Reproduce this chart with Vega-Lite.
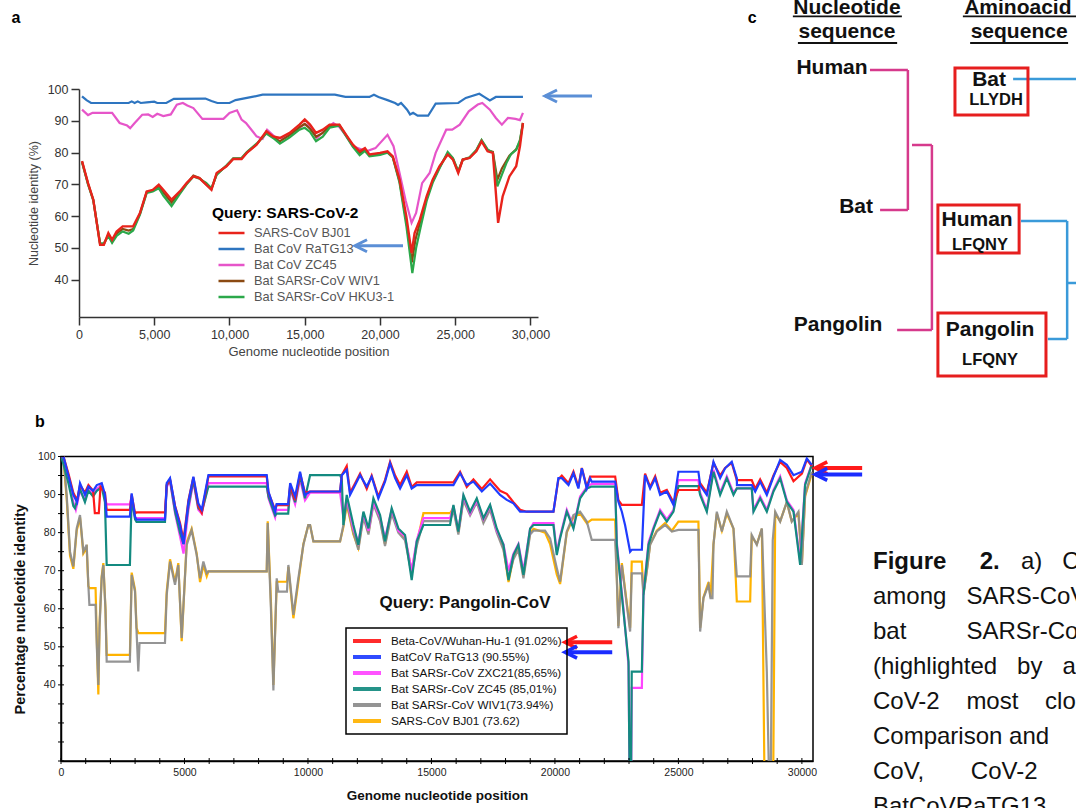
{
"$schema": "https://vega.github.io/schema/vega-lite/v6.json",
"autosize": "none",
"padding": {"left": 61, "top": 0, "right": 1015, "bottom": 808},
"background": "white",
"columns": 2,
"align": "none",
"bounds": "flush",
"spacing": {"row": 56.5, "column": 60},
"resolve": {"scale": {"color": "independent", "x": "independent", "y": "independent"}, "legend": {"color": "independent"}},
"config": {"font": "Liberation Sans", "view": {"stroke": null}, "axis": {"grid": false, "labelFlush": false, "labelOverlap": false}, "legend": {"strokeWidth": 1.5}},
"datasets": {
"a_ratg13": [{"x":200,"y":97.7},{"x":500,"y":96.5},{"x":800,"y":95.6},{"x":1500,"y":95.6},{"x":2500,"y":95.6},{"x":3300,"y":95.6},{"x":3500,"y":96.1},{"x":3700,"y":95.6},{"x":3900,"y":96.1},{"x":4100,"y":95.6},{"x":4500,"y":95.8},{"x":5000,"y":96.0},{"x":5200,"y":95.6},{"x":5800,"y":95.6},{"x":6300,"y":96.9},{"x":8400,"y":97.0},{"x":8800,"y":96.2},{"x":9200,"y":95.6},{"x":10000,"y":95.6},{"x":10400,"y":96.5},{"x":11500,"y":97.5},{"x":12200,"y":98.2},{"x":17000,"y":98.2},{"x":17700,"y":97.5},{"x":19300,"y":97.5},{"x":19600,"y":98.2},{"x":19900,"y":97.5},{"x":20500,"y":96.5},{"x":21000,"y":95.6},{"x":21200,"y":95.0},{"x":21400,"y":95.6},{"x":21600,"y":94.6},{"x":21800,"y":93.5},{"x":22000,"y":92.0},{"x":22200,"y":92.5},{"x":22500,"y":91.6},{"x":23200,"y":91.6},{"x":23700,"y":95.4},{"x":25200,"y":95.6},{"x":25700,"y":97.2},{"x":26600,"y":98.5},{"x":26900,"y":97.6},{"x":27300,"y":96.4},{"x":27700,"y":97.5},{"x":29500,"y":97.5}],
"a_zc45": [{"x":200,"y":93.5},{"x":600,"y":91.8},{"x":900,"y":92.5},{"x":2200,"y":92.5},{"x":2700,"y":89.3},{"x":3200,"y":88.5},{"x":3400,"y":87.7},{"x":3700,"y":89.3},{"x":4200,"y":91.9},{"x":4600,"y":92.0},{"x":4900,"y":91.2},{"x":5200,"y":92.2},{"x":5600,"y":91.5},{"x":6100,"y":92.0},{"x":6500,"y":95.1},{"x":6900,"y":95.6},{"x":7200,"y":94.8},{"x":7600,"y":94.0},{"x":8200,"y":90.6},{"x":9600,"y":90.6},{"x":10000,"y":92.5},{"x":10500,"y":93.3},{"x":10800,"y":90.4},{"x":11100,"y":89.3},{"x":11800,"y":85.1},{"x":12200,"y":84.3},{"x":12500,"y":87.2},{"x":13100,"y":84.6},{"x":13600,"y":84.6},{"x":14200,"y":86.2},{"x":15000,"y":89.0},{"x":15400,"y":88.0},{"x":15800,"y":84.6},{"x":16400,"y":87.2},{"x":16900,"y":89.3},{"x":17300,"y":88.0},{"x":17700,"y":85.6},{"x":18200,"y":82.0},{"x":19100,"y":80.4},{"x":19700,"y":81.4},{"x":20500,"y":85.6},{"x":20900,"y":82.0},{"x":21300,"y":73.6},{"x":21700,"y":65.0},{"x":22100,"y":57.9},{"x":22400,"y":61.0},{"x":22800,"y":70.4},{"x":23300,"y":73.6},{"x":23700,"y":79.9},{"x":24400,"y":87.2},{"x":24800,"y":87.2},{"x":25300,"y":88.8},{"x":25900,"y":93.0},{"x":26500,"y":95.1},{"x":26800,"y":95.6},{"x":27300,"y":93.5},{"x":27700,"y":90.9},{"x":28100,"y":88.8},{"x":28500,"y":90.9},{"x":29000,"y":90.6},{"x":29300,"y":90.2},{"x":29500,"y":92.5}],
"a_wiv1": [{"x":200,"y":77.2},{"x":600,"y":70.2},{"x":950,"y":65.1},{"x":1400,"y":51.2},{"x":1650,"y":51.2},{"x":1950,"y":54.2},{"x":2200,"y":52.0},{"x":2500,"y":54.5},{"x":2900,"y":56.0},{"x":3300,"y":55.5},{"x":3600,"y":56.0},{"x":4050,"y":60.8},{"x":4500,"y":67.6},{"x":4900,"y":68.0},{"x":5300,"y":69.3},{"x":5600,"y":67.5},{"x":6150,"y":64.3},{"x":6700,"y":67.4},{"x":7150,"y":70.2},{"x":7600,"y":72.8},{"x":8000,"y":72.0},{"x":8450,"y":70.0},{"x":8800,"y":68.5},{"x":9150,"y":73.3},{"x":9800,"y":75.8},{"x":10250,"y":78.1},{"x":10800,"y":78.1},{"x":11150,"y":80.0},{"x":11800,"y":82.6},{"x":12450,"y":86.3},{"x":12900,"y":84.8},{"x":13350,"y":83.6},{"x":14000,"y":85.5},{"x":14650,"y":88.0},{"x":15000,"y":89.0},{"x":15350,"y":87.5},{"x":15750,"y":85.0},{"x":16200,"y":86.2},{"x":16650,"y":88.3},{"x":17300,"y":88.7},{"x":17750,"y":85.4},{"x":18200,"y":82.2},{"x":18650,"y":79.8},{"x":19000,"y":81.0},{"x":19300,"y":79.1},{"x":20000,"y":79.6},{"x":20500,"y":80.2},{"x":20850,"y":78.6},{"x":21300,"y":71.0},{"x":21750,"y":58.5},{"x":22120,"y":45.5},{"x":22350,"y":52.5},{"x":22650,"y":57.8},{"x":23100,"y":65.5},{"x":23500,"y":71.0},{"x":23950,"y":75.3},{"x":24500,"y":79.8},{"x":24850,"y":78.0},{"x":25200,"y":73.9},{"x":25500,"y":77.8},{"x":25950,"y":78.4},{"x":26400,"y":80.6},{"x":26750,"y":83.8},{"x":27150,"y":80.7},{"x":27500,"y":80.2},{"x":27800,"y":71.5},{"x":28100,"y":75.0},{"x":28600,"y":79.0},{"x":29050,"y":81.0},{"x":29300,"y":83.5},{"x":29500,"y":89.3}],
"a_hku3": [{"x":200,"y":77.0},{"x":600,"y":70.0},{"x":950,"y":65.0},{"x":1400,"y":51.5},{"x":1650,"y":51.5},{"x":1950,"y":53.8},{"x":2200,"y":51.6},{"x":2500,"y":53.8},{"x":2900,"y":55.2},{"x":3300,"y":54.5},{"x":3600,"y":55.5},{"x":4050,"y":60.5},{"x":4500,"y":67.3},{"x":4900,"y":67.8},{"x":5300,"y":68.8},{"x":5600,"y":66.5},{"x":6150,"y":63.2},{"x":6700,"y":67.0},{"x":7150,"y":70.0},{"x":7600,"y":72.5},{"x":8000,"y":71.8},{"x":8450,"y":70.5},{"x":8800,"y":68.8},{"x":9150,"y":73.0},{"x":9800,"y":76.0},{"x":10250,"y":78.2},{"x":10800,"y":78.3},{"x":11150,"y":80.2},{"x":11800,"y":82.8},{"x":12450,"y":86.0},{"x":12900,"y":84.6},{"x":13350,"y":82.8},{"x":14000,"y":84.8},{"x":14650,"y":87.2},{"x":15000,"y":87.8},{"x":15350,"y":86.5},{"x":15750,"y":83.6},{"x":16200,"y":85.0},{"x":16650,"y":87.8},{"x":17300,"y":88.5},{"x":17750,"y":85.2},{"x":18200,"y":81.8},{"x":18650,"y":79.2},{"x":19000,"y":80.5},{"x":19300,"y":78.8},{"x":20000,"y":79.3},{"x":20500,"y":80.0},{"x":20850,"y":78.5},{"x":21300,"y":70.5},{"x":21750,"y":57.0},{"x":22150,"y":42.1},{"x":22400,"y":50.0},{"x":22700,"y":56.5},{"x":23100,"y":64.8},{"x":23500,"y":70.5},{"x":23950,"y":75.0},{"x":24500,"y":80.2},{"x":24850,"y":78.3},{"x":25200,"y":74.2},{"x":25500,"y":77.8},{"x":25950,"y":78.5},{"x":26400,"y":80.8},{"x":26750,"y":84.0},{"x":27150,"y":81.0},{"x":27500,"y":80.0},{"x":27800,"y":69.4},{"x":28400,"y":76.7},{"x":28700,"y":79.5},{"x":29050,"y":80.9},{"x":29300,"y":84.0},{"x":29500,"y":89.3}],
"a_bj01": [{"x":200,"y":77.3},{"x":600,"y":70.4},{"x":950,"y":65.2},{"x":1400,"y":51.0},{"x":1650,"y":51.0},{"x":1950,"y":54.7},{"x":2200,"y":52.6},{"x":2500,"y":55.2},{"x":2900,"y":56.8},{"x":3600,"y":56.8},{"x":4050,"y":61.0},{"x":4500,"y":67.8},{"x":4900,"y":68.3},{"x":5300,"y":69.9},{"x":5600,"y":68.3},{"x":6150,"y":65.2},{"x":6700,"y":67.8},{"x":7150,"y":70.4},{"x":7600,"y":72.5},{"x":8000,"y":72.0},{"x":8450,"y":69.9},{"x":8800,"y":68.3},{"x":9150,"y":73.6},{"x":9800,"y":75.7},{"x":10250,"y":78.0},{"x":10800,"y":78.0},{"x":11150,"y":79.9},{"x":11800,"y":82.5},{"x":12450,"y":86.7},{"x":12900,"y":85.1},{"x":13350,"y":84.6},{"x":14000,"y":86.2},{"x":14650,"y":88.8},{"x":15000,"y":90.4},{"x":15350,"y":88.8},{"x":15750,"y":86.2},{"x":16200,"y":87.2},{"x":16650,"y":88.8},{"x":17300,"y":88.8},{"x":17750,"y":85.6},{"x":18200,"y":82.5},{"x":18650,"y":80.4},{"x":19000,"y":81.4},{"x":19300,"y":79.4},{"x":20000,"y":79.9},{"x":20500,"y":80.4},{"x":20850,"y":78.8},{"x":21300,"y":71.5},{"x":21750,"y":60.0},{"x":22100,"y":48.4},{"x":22300,"y":54.7},{"x":22650,"y":58.9},{"x":23100,"y":66.2},{"x":23500,"y":71.5},{"x":23950,"y":75.7},{"x":24500,"y":79.4},{"x":24850,"y":77.8},{"x":25200,"y":73.6},{"x":25500,"y":77.8},{"x":25950,"y":78.3},{"x":26400,"y":80.4},{"x":26750,"y":83.5},{"x":27150,"y":80.4},{"x":27500,"y":79.9},{"x":27850,"y":57.9},{"x":28150,"y":66.2},{"x":28600,"y":72.5},{"x":29050,"y":75.7},{"x":29300,"y":82.0},{"x":29500,"y":89.3}],
"a_arrows": [{"x":30965,"x2":34090,"y":97.8},{"x":18340,"x2":21530,"y":50.7}],
"a_label": [{"t":"a","x":-4186,"y":122.4}],
"b_ratg13": [{"x":0,"y":100},{"x":100,"y":100},{"x":300,"y":95},{"x":500,"y":89.9},{"x":650,"y":88},{"x":770,"y":93},{"x":970,"y":89.9},{"x":1110,"y":92.1},{"x":1300,"y":91},{"x":1450,"y":92.5},{"x":1650,"y":93},{"x":1780,"y":90},{"x":1850,"y":84.2},{"x":2790,"y":84.2},{"x":2860,"y":90.3},{"x":3000,"y":84.2},{"x":3060,"y":83.4},{"x":4210,"y":83.4},{"x":4280,"y":93},{"x":4415,"y":94.3},{"x":4620,"y":86.8},{"x":4820,"y":82},{"x":4960,"y":77},{"x":5160,"y":88.1},{"x":5360,"y":94.7},{"x":5560,"y":87.7},{"x":5700,"y":86},{"x":5970,"y":95.1},{"x":8330,"y":95.1},{"x":8400,"y":90.8},{"x":8670,"y":85.5},{"x":8730,"y":87.5},{"x":9200,"y":87.5},{"x":9280,"y":93},{"x":9480,"y":89.5},{"x":9680,"y":96},{"x":9880,"y":89.9},{"x":10085,"y":90.8},{"x":11300,"y":90.8},{"x":11370,"y":95.1},{"x":11570,"y":96.5},{"x":11705,"y":89.9},{"x":11910,"y":92.5},{"x":12110,"y":95.1},{"x":12380,"y":92.1},{"x":12580,"y":94.7},{"x":12850,"y":89},{"x":13120,"y":93.4},{"x":13325,"y":98.2},{"x":13530,"y":94.3},{"x":13730,"y":91.6},{"x":14000,"y":95.1},{"x":14200,"y":91.6},{"x":14405,"y":92.5},{"x":15890,"y":92.5},{"x":16160,"y":95.6},{"x":16430,"y":92.5},{"x":16700,"y":93.4},{"x":17040,"y":90.8},{"x":17375,"y":92.9},{"x":17780,"y":89.9},{"x":18050,"y":88.6},{"x":18320,"y":87.7},{"x":18590,"y":85.5},{"x":19940,"y":85.5},{"x":20140,"y":94.3},{"x":20280,"y":94.3},{"x":20550,"y":92.5},{"x":20750,"y":95.6},{"x":20950,"y":91.6},{"x":21090,"y":96.9},{"x":21290,"y":91.6},{"x":21425,"y":94.3},{"x":21490,"y":93.4},{"x":22440,"y":93.4},{"x":22570,"y":88.1},{"x":22710,"y":85.5},{"x":22840,"y":82},{"x":23045,"y":75},{"x":23110,"y":75.5},{"x":23520,"y":75.5},{"x":23650,"y":95.1},{"x":23855,"y":91.6},{"x":24060,"y":94.3},{"x":24260,"y":89.9},{"x":24530,"y":90.8},{"x":24800,"y":87.3},{"x":25000,"y":96},{"x":25810,"y":96},{"x":25880,"y":92.5},{"x":26150,"y":89.9},{"x":26420,"y":98.6},{"x":26690,"y":94.3},{"x":26890,"y":96.9},{"x":27160,"y":98.6},{"x":27365,"y":94.3},{"x":27370,"y":92.5},{"x":27970,"y":92.5},{"x":28110,"y":90.8},{"x":28310,"y":93.4},{"x":28580,"y":89.9},{"x":28850,"y":94.7},{"x":29120,"y":99.1},{"x":29390,"y":97.8},{"x":29660,"y":95.1},{"x":30000,"y":96},{"x":30200,"y":99.5},{"x":30400,"y":97.8}],
"b_wuhan": [{"x":0,"y":100},{"x":100,"y":100},{"x":300,"y":95.5},{"x":500,"y":90.5},{"x":650,"y":88.5},{"x":770,"y":92.5},{"x":970,"y":90.5},{"x":1110,"y":92.5},{"x":1300,"y":91},{"x":1370,"y":85.1},{"x":1530,"y":85.1},{"x":1600,"y":92},{"x":1780,"y":90.5},{"x":1850,"y":86},{"x":2790,"y":86},{"x":2860,"y":90},{"x":3000,"y":85},{"x":3060,"y":85.3},{"x":4210,"y":85.3},{"x":4280,"y":92.5},{"x":4415,"y":94},{"x":4620,"y":87},{"x":4820,"y":82.5},{"x":4960,"y":78},{"x":5160,"y":88.5},{"x":5360,"y":94.5},{"x":5560,"y":87},{"x":5700,"y":85.2},{"x":5970,"y":94.8},{"x":8330,"y":94.8},{"x":8400,"y":90.5},{"x":8670,"y":86},{"x":8730,"y":87.2},{"x":9200,"y":87.2},{"x":9280,"y":92.5},{"x":9480,"y":88.5},{"x":9680,"y":95.5},{"x":9880,"y":90.5},{"x":10085,"y":90.8},{"x":11300,"y":90.8},{"x":11370,"y":95.1},{"x":11570,"y":97.5},{"x":11705,"y":90.5},{"x":11910,"y":93},{"x":12110,"y":95.5},{"x":12380,"y":91.5},{"x":12580,"y":95},{"x":12850,"y":89.5},{"x":13120,"y":93.8},{"x":13325,"y":98.6},{"x":13530,"y":95},{"x":13730,"y":92.5},{"x":14000,"y":96},{"x":14200,"y":92},{"x":14405,"y":93.2},{"x":15890,"y":93.2},{"x":16160,"y":96},{"x":16430,"y":92},{"x":16700,"y":94},{"x":17040,"y":91.5},{"x":17375,"y":94},{"x":17780,"y":91},{"x":18050,"y":90.2},{"x":18320,"y":88},{"x":18590,"y":86},{"x":18860,"y":85.5},{"x":19940,"y":85.5},{"x":20140,"y":94},{"x":20280,"y":95},{"x":20550,"y":93},{"x":20750,"y":96},{"x":20950,"y":92},{"x":21090,"y":97},{"x":21290,"y":92},{"x":21425,"y":94.7},{"x":22440,"y":94.7},{"x":22570,"y":88.5},{"x":22710,"y":87.3},{"x":23520,"y":87.3},{"x":23650,"y":95.5},{"x":23855,"y":92},{"x":24060,"y":94.8},{"x":24260,"y":90.5},{"x":24530,"y":91.2},{"x":24800,"y":88},{"x":25000,"y":91.2},{"x":25810,"y":91.2},{"x":25880,"y":93},{"x":26150,"y":90.5},{"x":26420,"y":98.3},{"x":26690,"y":95},{"x":26890,"y":97},{"x":27160,"y":98.3},{"x":27365,"y":93.8},{"x":27970,"y":93.8},{"x":28110,"y":91.5},{"x":28310,"y":94},{"x":28580,"y":90.5},{"x":28850,"y":95},{"x":29120,"y":98.6},{"x":29390,"y":97},{"x":29660,"y":93.5},{"x":30000,"y":95.5},{"x":30200,"y":99.2},{"x":30400,"y":97.5}],
"b_zxc21": [{"x":0,"y":100},{"x":100,"y":99},{"x":300,"y":94},{"x":500,"y":88},{"x":600,"y":86},{"x":770,"y":91},{"x":970,"y":88.5},{"x":1110,"y":91.5},{"x":1300,"y":90},{"x":1450,"y":91.5},{"x":1650,"y":92.5},{"x":1780,"y":89},{"x":1850,"y":87.4},{"x":2790,"y":87.4},{"x":2860,"y":89.5},{"x":3000,"y":84},{"x":3060,"y":83.8},{"x":4210,"y":83.8},{"x":4280,"y":92},{"x":4415,"y":93.5},{"x":4620,"y":85},{"x":4820,"y":79},{"x":4960,"y":74.5},{"x":5160,"y":86},{"x":5360,"y":93.5},{"x":5560,"y":86},{"x":5700,"y":85},{"x":5970,"y":93},{"x":8330,"y":93},{"x":8400,"y":89},{"x":8670,"y":84},{"x":8730,"y":86},{"x":9200,"y":86},{"x":9280,"y":91.5},{"x":9480,"y":87.5},{"x":9680,"y":94},{"x":9880,"y":88.5},{"x":10085,"y":90.5},{"x":11300,"y":90.5},{"x":11435,"y":84},{"x":11570,"y":89},{"x":11840,"y":81},{"x":12040,"y":77.5},{"x":12245,"y":85},{"x":12450,"y":80.5},{"x":12650,"y":88},{"x":12920,"y":84},{"x":13120,"y":78.5},{"x":13390,"y":86},{"x":13660,"y":80.5},{"x":13930,"y":79},{"x":14200,"y":70},{"x":14405,"y":78},{"x":14675,"y":83.8},{"x":15755,"y":83.8},{"x":15890,"y":87},{"x":16090,"y":80.5},{"x":16295,"y":89.5},{"x":16565,"y":85},{"x":16835,"y":88.5},{"x":17105,"y":83.5},{"x":17375,"y":87},{"x":17645,"y":80.5},{"x":17915,"y":77},{"x":18120,"y":70},{"x":18320,"y":74.5},{"x":18520,"y":77},{"x":18725,"y":70},{"x":18995,"y":81},{"x":19130,"y":82.5},{"x":19940,"y":82.5},{"x":20075,"y":75},{"x":20210,"y":79},{"x":20480,"y":86},{"x":20750,"y":81.5},{"x":21020,"y":89.5},{"x":21290,"y":92},{"x":21490,"y":92.8},{"x":22440,"y":92.8},{"x":22505,"y":77.5},{"x":22640,"y":68.5},{"x":22775,"y":60},{"x":22980,"y":45},{"x":23045,"y":0},{"x":23070,"y":0},{"x":23110,"y":39.2},{"x":23520,"y":39.2},{"x":23585,"y":64},{"x":23790,"y":77.5},{"x":24000,"y":81.5},{"x":24260,"y":86},{"x":24530,"y":83.5},{"x":24800,"y":86},{"x":25000,"y":93.8},{"x":25810,"y":93.8},{"x":25880,"y":90.5},{"x":26150,"y":86},{"x":26420,"y":96.5},{"x":26690,"y":90.5},{"x":26960,"y":94.8},{"x":27230,"y":90.5},{"x":27365,"y":91.6},{"x":27970,"y":91.6},{"x":28040,"y":86},{"x":28310,"y":89.5},{"x":28580,"y":86},{"x":28850,"y":91.2},{"x":29120,"y":94.8},{"x":29390,"y":88.5},{"x":29660,"y":86},{"x":29930,"y":72.5},{"x":30130,"y":93},{"x":30400,"y":98}],
"b_zc45": [{"x":0,"y":100},{"x":100,"y":98},{"x":300,"y":93},{"x":500,"y":87},{"x":567,"y":86.4},{"x":770,"y":91.5},{"x":970,"y":88},{"x":1110,"y":91},{"x":1300,"y":89.5},{"x":1450,"y":91},{"x":1650,"y":92},{"x":1780,"y":88},{"x":1850,"y":71.5},{"x":2790,"y":71.5},{"x":2860,"y":89},{"x":3000,"y":83.5},{"x":3060,"y":82.8},{"x":4210,"y":82.8},{"x":4280,"y":92.5},{"x":4415,"y":93.8},{"x":4620,"y":85.5},{"x":4820,"y":80},{"x":4960,"y":77},{"x":5160,"y":87},{"x":5360,"y":93.8},{"x":5560,"y":86.5},{"x":5700,"y":85.5},{"x":5970,"y":92.1},{"x":8330,"y":92.1},{"x":8400,"y":89.5},{"x":8670,"y":84.5},{"x":8730,"y":85},{"x":9200,"y":85},{"x":9280,"y":92},{"x":9480,"y":88},{"x":9680,"y":95},{"x":9880,"y":89},{"x":10085,"y":95.1},{"x":11300,"y":95.1},{"x":11370,"y":94},{"x":11435,"y":82},{"x":11570,"y":89.9},{"x":11840,"y":82},{"x":12040,"y":76.8},{"x":12245,"y":85.5},{"x":12450,"y":81.1},{"x":12650,"y":89},{"x":12920,"y":84.6},{"x":13120,"y":77.7},{"x":13390,"y":86.4},{"x":13660,"y":81.1},{"x":13930,"y":79.4},{"x":14200,"y":67.5},{"x":14405,"y":77.7},{"x":14675,"y":82},{"x":15755,"y":82},{"x":15890,"y":87.3},{"x":16090,"y":80.3},{"x":16295,"y":89.9},{"x":16565,"y":85.5},{"x":16835,"y":89},{"x":17105,"y":83.8},{"x":17375,"y":87.3},{"x":17645,"y":81.1},{"x":17915,"y":76.8},{"x":18120,"y":67.5},{"x":18320,"y":74.1},{"x":18520,"y":76.8},{"x":18725,"y":68.9},{"x":18995,"y":81.1},{"x":19130,"y":82},{"x":19940,"y":82},{"x":20075,"y":74.1},{"x":20210,"y":78.5},{"x":20480,"y":85.5},{"x":20750,"y":81.1},{"x":21020,"y":89},{"x":21290,"y":91.6},{"x":21490,"y":92.1},{"x":22440,"y":92.1},{"x":22505,"y":76.8},{"x":22640,"y":68},{"x":22775,"y":59.3},{"x":22980,"y":46.1},{"x":23045,"y":0},{"x":23070,"y":0},{"x":23110,"y":43.5},{"x":23520,"y":43.5},{"x":23585,"y":63.6},{"x":23790,"y":76.8},{"x":24000,"y":81.1},{"x":24260,"y":85.5},{"x":24530,"y":82.9},{"x":24800,"y":85.5},{"x":25000,"y":92.2},{"x":25810,"y":92.2},{"x":25880,"y":89.9},{"x":26150,"y":85.5},{"x":26420,"y":96},{"x":26690,"y":89.9},{"x":26960,"y":94.3},{"x":27230,"y":89.9},{"x":27365,"y":91.6},{"x":27970,"y":91.6},{"x":28040,"y":85.5},{"x":28310,"y":89},{"x":28580,"y":85.5},{"x":28850,"y":90.8},{"x":29120,"y":94.3},{"x":29390,"y":88.1},{"x":29660,"y":85.5},{"x":29930,"y":71.5},{"x":30130,"y":92.5},{"x":30400,"y":97.8}],
"b_wiv1": [{"x":0,"y":100},{"x":100,"y":100},{"x":230,"y":89.9},{"x":365,"y":75},{"x":500,"y":71.1},{"x":635,"y":81.1},{"x":770,"y":84.6},{"x":905,"y":75},{"x":1040,"y":76.8},{"x":1107,"y":66.3},{"x":1150,"y":61},{"x":1400,"y":61},{"x":1450,"y":50},{"x":1512,"y":40},{"x":1560,"y":55},{"x":1647,"y":68},{"x":1715,"y":71.5},{"x":1800,"y":60},{"x":1850,"y":46.1},{"x":2790,"y":46.1},{"x":2862,"y":68.9},{"x":2997,"y":64.5},{"x":3060,"y":54},{"x":3130,"y":43.5},{"x":3180,"y":51},{"x":4210,"y":51},{"x":4280,"y":63.6},{"x":4415,"y":72.4},{"x":4617,"y":66.3},{"x":4750,"y":71.5},{"x":4887,"y":52.3},{"x":5090,"y":76.8},{"x":5290,"y":80.7},{"x":5495,"y":74.1},{"x":5630,"y":68},{"x":5765,"y":72.4},{"x":5900,"y":69.3},{"x":5967,"y":69.8},{"x":8330,"y":69.8},{"x":8370,"y":82.5},{"x":8500,"y":60},{"x":8600,"y":38.5},{"x":8735,"y":68},{"x":8800,"y":64.5},{"x":9150,"y":64.5},{"x":9207,"y":71.5},{"x":9410,"y":58.4},{"x":9610,"y":68},{"x":9815,"y":76.8},{"x":10015,"y":82},{"x":10085,"y":82},{"x":10220,"y":77.7},{"x":11300,"y":77.7},{"x":11435,"y":82},{"x":11570,"y":88},{"x":11840,"y":80},{"x":12040,"y":75.5},{"x":12245,"y":84},{"x":12450,"y":79.5},{"x":12650,"y":87.5},{"x":12920,"y":83},{"x":13120,"y":76.5},{"x":13390,"y":85},{"x":13660,"y":80},{"x":13930,"y":78},{"x":14200,"y":69},{"x":14405,"y":76.5},{"x":14675,"y":83},{"x":15755,"y":83},{"x":15890,"y":86},{"x":16090,"y":79.5},{"x":16295,"y":88.5},{"x":16565,"y":84.5},{"x":16835,"y":88},{"x":17105,"y":82.5},{"x":17375,"y":86},{"x":17645,"y":80},{"x":17915,"y":75.5},{"x":18120,"y":68},{"x":18320,"y":73},{"x":18520,"y":75.5},{"x":18725,"y":68},{"x":18995,"y":79.5},{"x":19130,"y":80.5},{"x":19600,"y":80.5},{"x":19805,"y":78.5},{"x":20075,"y":70.7},{"x":20210,"y":67.1},{"x":20480,"y":80.3},{"x":20750,"y":84.6},{"x":21020,"y":85.5},{"x":21290,"y":82.9},{"x":21490,"y":78.1},{"x":22440,"y":78.1},{"x":22505,"y":68},{"x":22570,"y":54.9},{"x":22710,"y":71.5},{"x":22910,"y":61},{"x":23045,"y":54},{"x":23110,"y":69.3},{"x":23520,"y":69.3},{"x":23585,"y":63.6},{"x":23720,"y":69.8},{"x":23855,"y":76.8},{"x":24125,"y":80.3},{"x":24460,"y":82},{"x":24735,"y":80.3},{"x":25000,"y":80.7},{"x":25810,"y":80.7},{"x":25880,"y":54},{"x":26015,"y":62.8},{"x":26220,"y":66.3},{"x":26300,"y":62.8},{"x":26380,"y":62.8},{"x":26420,"y":76.8},{"x":26555,"y":85.5},{"x":26760,"y":80.3},{"x":26960,"y":85.5},{"x":27230,"y":81.1},{"x":27365,"y":68.5},{"x":27905,"y":68.5},{"x":27970,"y":79.4},{"x":28175,"y":76.8},{"x":28380,"y":81.1},{"x":28580,"y":43.5},{"x":28720,"y":0},{"x":28820,"y":78},{"x":28920,"y":85.5},{"x":29120,"y":82.9},{"x":29390,"y":88.1},{"x":29590,"y":82.9},{"x":29860,"y":85.5},{"x":30000,"y":71.5},{"x":30130,"y":89.9},{"x":30400,"y":96}],
"b_bj01": [{"x":0,"y":100},{"x":100,"y":99},{"x":230,"y":89},{"x":365,"y":74},{"x":500,"y":70.5},{"x":635,"y":80.5},{"x":770,"y":84},{"x":905,"y":74.5},{"x":1040,"y":76},{"x":1107,"y":66},{"x":1150,"y":65.4},{"x":1400,"y":65.4},{"x":1450,"y":52},{"x":1512,"y":37.5},{"x":1560,"y":56},{"x":1647,"y":68.5},{"x":1715,"y":72},{"x":1800,"y":60},{"x":1850,"y":47.9},{"x":2790,"y":47.9},{"x":2862,"y":69.5},{"x":2997,"y":65},{"x":3060,"y":55},{"x":3130,"y":53.6},{"x":4210,"y":53.6},{"x":4280,"y":64.5},{"x":4415,"y":73},{"x":4617,"y":67},{"x":4750,"y":72},{"x":4887,"y":51.5},{"x":5090,"y":77.5},{"x":5290,"y":81},{"x":5495,"y":74.5},{"x":5630,"y":67},{"x":5765,"y":71.5},{"x":5900,"y":68.5},{"x":5967,"y":69.8},{"x":8330,"y":69.8},{"x":8370,"y":83},{"x":8500,"y":62},{"x":8600,"y":40},{"x":8735,"y":67},{"x":8800,"y":67.1},{"x":9150,"y":67.1},{"x":9207,"y":71},{"x":9410,"y":57.5},{"x":9610,"y":67},{"x":9815,"y":77},{"x":10015,"y":82},{"x":10085,"y":82},{"x":10220,"y":77.7},{"x":11300,"y":77.7},{"x":11435,"y":81.5},{"x":11570,"y":87.5},{"x":11840,"y":79.5},{"x":12040,"y":76},{"x":12245,"y":84.5},{"x":12450,"y":80},{"x":12650,"y":88},{"x":12920,"y":83.5},{"x":13120,"y":77},{"x":13390,"y":85.5},{"x":13660,"y":80.5},{"x":13930,"y":78.5},{"x":14200,"y":70},{"x":14405,"y":77},{"x":14675,"y":85.1},{"x":15755,"y":85.1},{"x":15890,"y":86.5},{"x":16090,"y":80},{"x":16295,"y":89},{"x":16565,"y":85},{"x":16835,"y":88.5},{"x":17105,"y":83},{"x":17375,"y":86.5},{"x":17645,"y":80.5},{"x":17915,"y":76},{"x":18120,"y":67},{"x":18320,"y":73.5},{"x":18520,"y":76},{"x":18725,"y":68.5},{"x":18995,"y":80},{"x":19130,"y":81},{"x":19600,"y":80},{"x":19805,"y":77},{"x":20075,"y":69},{"x":20210,"y":66.5},{"x":20480,"y":80},{"x":20750,"y":84},{"x":21020,"y":85},{"x":21290,"y":82.5},{"x":21490,"y":83.4},{"x":22440,"y":83.4},{"x":22505,"y":68.5},{"x":22570,"y":55.5},{"x":22710,"y":72},{"x":22910,"y":61.5},{"x":23045,"y":55},{"x":23110,"y":72.4},{"x":23520,"y":72.4},{"x":23585,"y":64},{"x":23720,"y":70},{"x":23855,"y":77},{"x":24125,"y":80.5},{"x":24460,"y":82.5},{"x":24735,"y":80.5},{"x":25000,"y":82.9},{"x":25810,"y":82.9},{"x":25880,"y":55},{"x":26015,"y":63},{"x":26220,"y":67},{"x":26300,"y":63},{"x":26420,"y":77},{"x":26555,"y":85},{"x":26760,"y":80.5},{"x":26960,"y":85},{"x":27230,"y":81},{"x":27365,"y":61.9},{"x":27905,"y":61.9},{"x":27970,"y":79},{"x":28175,"y":77},{"x":28380,"y":81},{"x":28510,"y":0},{"x":28820,"y":0},{"x":28920,"y":85},{"x":29120,"y":83},{"x":29390,"y":88},{"x":29590,"y":83},{"x":29860,"y":85},{"x":30000,"y":72},{"x":30130,"y":89.5},{"x":30400,"y":95.5}],
"b_arrow_red": [{"x":30540,"x2":32440,"y":97.0},{"x":20410,"x2":22320,"y":51.2}],
"b_arrow_blue": [{"x":30540,"x2":32440,"y":95.3},{"x":20410,"x2":22320,"y":48.6}],
"b_text": [{"t":"Query: Pangolin-CoV","x":16360,"y":61.5}],
"b_label": [{"t":"b","x":-850,"y":109.1}],
"b_yticks": [{"y":20},{"y":25},{"y":30},{"y":35},{"y":40},{"y":45},{"y":50},{"y":55},{"y":60},{"y":65},{"y":70},{"y":75},{"y":80},{"y":85},{"y":90},{"y":95},{"y":100}],
"b_xticks": [{"x":0},{"x":1000},{"x":2000},{"x":3000},{"x":4000},{"x":5000},{"x":6000},{"x":7000},{"x":8000},{"x":9000},{"x":10000},{"x":11000},{"x":12000},{"x":13000},{"x":14000},{"x":15000},{"x":16000},{"x":17000},{"x":18000},{"x":19000},{"x":20000},{"x":21000},{"x":22000},{"x":23000},{"x":24000},{"x":25000},{"x":26000},{"x":27000},{"x":28000},{"x":29000},{"x":30000}],
"c_pink": [{"x":34.8,"x2":46.8,"y":17.5,"y2":17.5},{"x":46.8,"x2":46.8,"y":17.5,"y2":52.5},{"x":38.0,"x2":46.8,"y":52.5,"y2":52.5},{"x":48.1,"x2":54.4,"y":36.25,"y2":36.25},{"x":54.4,"x2":54.4,"y":36.25,"y2":82.5},{"x":43.4,"x2":54.4,"y":82.5,"y2":82.5}],
"c_blue": [{"x":80.1,"x2":101.3,"y":19.75,"y2":19.75},{"x":82.6,"x2":97.2,"y":55.25,"y2":55.25},{"x":97.2,"x2":97.2,"y":55.25,"y2":84.75},{"x":91.1,"x2":97.2,"y":84.75,"y2":84.75},{"x":97.2,"x2":101.3,"y":70.75,"y2":70.75}],
"c_boxes": [{"x":61.7,"x2":84.8,"y":17,"y2":28.75},{"x":56.3,"x2":82.0,"y":51.25,"y2":63.25},{"x":56.3,"x2":90.5,"y":78.25,"y2":94}],
"c_big": [{"t":"Human","x":22.8,"y":17.0},{"t":"Bat","x":30.4,"y":51.75},{"t":"Pangolin","x":24.7,"y":81.25},{"t":"Bat","x":72.5,"y":20},{"t":"Human","x":68.7,"y":55},{"t":"Pangolin","x":72.8,"y":82.5}],
"c_small": [{"t":"LLYDH","x":74.7,"y":25},{"t":"LFQNY","x":69.6,"y":61.25},{"t":"LFQNY","x":72.8,"y":90}],
"c_head": [{"t":"Nucleotide","x":27.5,"y":3.5},{"t":"sequence","x":27.5,"y":9.5},{"t":"Aminoacid","x":81.6,"y":3.5},{"t":"sequence","x":82.0,"y":9.5}],
"c_under": [{"x":10.4,"x2":44.9,"y":4.1,"y2":4.1},{"x":12.0,"x2":43.4,"y":10.75,"y2":10.75},{"x":64.2,"x2":101.5,"y":4.1,"y2":4.1},{"x":66.5,"x2":97.5,"y":10.75,"y2":10.75}],
"c_label": [{"t":"c","x":-2.5,"y":4.5}],
"cap_bold": [{"line":1,"t":"Figure\u00a0\u00a0\u00a0\u00a0\u00a02."}],
"cap_first": [{"line":1,"t":"a)\u00a0\u00a0\u00a0Comparison"}],
"cap": [{"line":2,"t":"among\u00a0\u00a0\u00a0SARS-CoV-2"},{"line":3,"t":"bat\u00a0\u00a0\u00a0\u00a0\u00a0\u00a0\u00a0\u00a0\u00a0SARSr-CoV"},{"line":4,"t":"(highlighted\u00a0\u00a0\u00a0by\u00a0\u00a0\u00a0arrows)"},{"line":5,"t":"CoV-2\u00a0\u00a0\u00a0\u00a0most\u00a0\u00a0\u00a0\u00a0closely"},{"line":6,"t":"Comparison\u00a0and"},{"line":7,"t":"CoV,\u00a0\u00a0\u00a0\u00a0\u00a0\u00a0\u00a0CoV-2"},{"line":8,"t":"BatCoVRaTG13"}]
},
"concat": [
{
 "width": 477, "height": 317,
 "layer": [
  {"data": {"name": "a_ratg13"}, "mark": {"type": "line", "strokeWidth": 2.2},
   "encoding": {
    "x": {"field": "x", "type": "quantitative", "scale": {"domain": [0, 30500], "range": [18, 477], "nice": false, "zero": false},
          "axis": {"values": [0,5000,10000,15000,20000,25000,30000], "format": ",d", "title": "Genome nucleotide position", "titleFontSize": 13, "titleFontWeight": "normal", "titleColor": "#444", "titlePadding": 5, "labelFontSize": 12.5, "labelColor": "#333", "labelPadding": 3, "labelOverlap": false, "domainColor": "#333", "domainWidth": 1.5, "tickColor": "#333", "tickWidth": 1.5, "tickSize": 8}},
    "y": {"field": "y", "type": "quantitative", "scale": {"domain": [28.3, 100], "range": [317, 89], "nice": false, "zero": false},
          "axis": {"values": [40,50,60,70,80,90,100], "offset": -18, "title": "Nucleotide identity (%)", "titleFontSize": 12.5, "titleFontWeight": "normal", "titleColor": "#444", "titlePadding": 7, "labelFontSize": 12.5, "labelColor": "#333", "labelPadding": 3, "labelOverlap": false, "domainColor": "#333", "domainWidth": 1.5, "tickColor": "#333", "tickWidth": 1.5, "tickSize": 8}},
    "color": {"datum": "Bat CoV RaTG13", "type": "nominal",
      "scale": {"domain": ["SARS-CoV BJ01","Bat CoV RaTG13","Bat CoV ZC45","Bat SARSr-CoV WIV1","Bat SARSr-CoV HKU3-1"], "range": ["#e8231b","#2e75c0","#e655c9","#8b4a12","#2ba84a"]},
      "legend": {"orient": "none", "legendX": 151, "legendY": 206, "title": "Query: SARS-CoV-2", "titleFontSize": 15.5, "titleFontWeight": "bold", "titleColor": "#000", "titlePadding": 5, "labelFontSize": 12.8, "labelColor": "#555", "labelLimit": 300, "symbolType": "M0,0H5.2", "symbolSize": 100, "symbolStrokeWidth": 2.5, "labelOffset": 29, "rowPadding": 2, "padding": 0}}
   }},
  {"data": {"name": "a_zc45"}, "mark": {"type": "line", "strokeWidth": 2.2}, "encoding": {"x": {"field": "x", "type": "quantitative"}, "y": {"field": "y", "type": "quantitative"}, "color": {"datum": "Bat CoV ZC45", "type": "nominal"}}},
  {"data": {"name": "a_wiv1"}, "mark": {"type": "line", "strokeWidth": 2.2}, "encoding": {"x": {"field": "x", "type": "quantitative"}, "y": {"field": "y", "type": "quantitative"}, "color": {"datum": "Bat SARSr-CoV WIV1", "type": "nominal"}}},
  {"data": {"name": "a_hku3"}, "mark": {"type": "line", "strokeWidth": 2.2}, "encoding": {"x": {"field": "x", "type": "quantitative"}, "y": {"field": "y", "type": "quantitative"}, "color": {"datum": "Bat SARSr-CoV HKU3-1", "type": "nominal"}}},
  {"data": {"name": "a_bj01"}, "mark": {"type": "line", "strokeWidth": 2.4}, "encoding": {"x": {"field": "x", "type": "quantitative"}, "y": {"field": "y", "type": "quantitative"}, "color": {"datum": "SARS-CoV BJ01", "type": "nominal"}}},
  {"data": {"name": "a_arrows"}, "mark": {"type": "rule", "color": "#5b8fd6", "strokeWidth": 3}, "encoding": {"x": {"field": "x", "type": "quantitative"}, "x2": {"field": "x2"}, "y": {"field": "y", "type": "quantitative"}}},
  {"data": {"name": "a_arrows"}, "mark": {"type": "point", "shape": "M2,-1L0,0L2,1", "filled": false, "color": "#5b8fd6", "strokeWidth": 3, "size": 144, "opacity": 1}, "encoding": {"x": {"field": "x", "type": "quantitative"}, "y": {"field": "y", "type": "quantitative"}}},
  {"data": {"name": "a_label"}, "mark": {"type": "text", "fontSize": 16, "fontWeight": "bold", "color": "#000", "align": "center", "baseline": "middle"}, "encoding": {"x": {"field": "x", "type": "quantitative"}, "y": {"field": "y", "type": "quantitative"}, "text": {"field": "t"}}}
 ]
},
{
 "width": 203, "height": 400,
 "layer": [
  {"data": {"name": "c_pink"}, "mark": {"type": "rule", "color": "#d63a8c", "strokeWidth": 2.5},
   "encoding": {"x": {"field": "x", "type": "quantitative", "scale": {"domain": [0, 100], "range": [-113, 203]}, "axis": null}, "x2": {"field": "x2"}, "y": {"field": "y", "type": "quantitative", "scale": {"domain": [0, 100], "range": [0, 400]}, "axis": null}, "y2": {"field": "y2"}}},
  {"data": {"name": "c_blue"}, "mark": {"type": "rule", "color": "#3a9ad9", "strokeWidth": 2.5}, "encoding": {"x": {"field": "x", "type": "quantitative"}, "x2": {"field": "x2"}, "y": {"field": "y", "type": "quantitative"}, "y2": {"field": "y2"}}},
  {"data": {"name": "c_boxes"}, "mark": {"type": "rect", "filled": false, "stroke": "#e61e1e", "strokeWidth": 3}, "encoding": {"x": {"field": "x", "type": "quantitative"}, "x2": {"field": "x2"}, "y": {"field": "y", "type": "quantitative"}, "y2": {"field": "y2"}}},
  {"data": {"name": "c_under"}, "mark": {"type": "rule", "color": "#111", "strokeWidth": 1.8}, "encoding": {"x": {"field": "x", "type": "quantitative"}, "x2": {"field": "x2"}, "y": {"field": "y", "type": "quantitative"}, "y2": {"field": "y2"}}},
  {"data": {"name": "c_big"}, "mark": {"type": "text", "fontSize": 21, "fontWeight": "bold", "color": "#111", "align": "center", "baseline": "middle"}, "encoding": {"x": {"field": "x", "type": "quantitative"}, "y": {"field": "y", "type": "quantitative"}, "text": {"field": "t"}}},
  {"data": {"name": "c_small"}, "mark": {"type": "text", "fontSize": 16.5, "fontWeight": "bold", "color": "#111", "align": "center", "baseline": "middle"}, "encoding": {"x": {"field": "x", "type": "quantitative"}, "y": {"field": "y", "type": "quantitative"}, "text": {"field": "t"}}},
  {"data": {"name": "c_head"}, "mark": {"type": "text", "fontSize": 21, "fontWeight": "bold", "color": "#111", "align": "center", "baseline": "alphabetic"}, "encoding": {"x": {"field": "x", "type": "quantitative"}, "y": {"field": "y", "type": "quantitative"}, "text": {"field": "t"}}},
  {"data": {"name": "c_label"}, "mark": {"type": "text", "fontSize": 16, "fontWeight": "bold", "color": "#000", "align": "center", "baseline": "middle"}, "encoding": {"x": {"field": "x", "type": "quantitative"}, "y": {"field": "y", "type": "quantitative"}, "text": {"field": "t"}}}
 ]
},
{
 "width": 752, "height": 304.5,
 "view": {"stroke": "#000", "strokeWidth": 1.5},
 "layer": [
  {"data": {"name": "b_bj01"}, "mark": {"type": "line", "strokeWidth": 2.2, "clip": true},
   "encoding": {
    "x": {"field": "x", "type": "quantitative", "scale": {"domain": [0, 30450], "nice": false, "zero": false},
          "axis": {"values": [0,5000,10000,15000,20000,25000,30000], "format": "d", "labelOverlap": false, "ticks": false, "title": "Genome nucleotide position", "titleFontSize": 13.5, "titleFontWeight": "bold", "titleColor": "#111", "titlePadding": 11, "labelFontSize": 10.5, "labelColor": "#222", "labelPadding": 6, "domainColor": "#000", "domainWidth": 1.5}},
    "y": {"field": "y", "type": "quantitative", "scale": {"domain": [20, 100], "nice": false, "zero": false},
          "axis": {"values": [40,50,60,70,80,90,100], "labelOverlap": false, "ticks": false, "title": "Percentage nucleotide identity", "titleFontSize": 14.5, "titleFontWeight": "bold", "titleColor": "#111", "titlePadding": 10, "labelFontSize": 10.5, "labelColor": "#222", "labelPadding": 6, "domainColor": "#000", "domainWidth": 1.5}},
    "color": {"datum": "SARS-CoV BJ01 (73.62)", "type": "nominal",
      "scale": {"domain": ["Beta-CoV/Wuhan-Hu-1 (91.02%)","BatCoV RaTG13 (90.55%)","Bat SARSr-CoV ZXC21(85,65%)","Bat SARSr-CoV ZC45 (85,01%)","Bat SARSr-CoV WIV1(73.94%)","SARS-CoV BJ01 (73.62)"], "range": ["#ff1a1a","#1f3cff","#ff45ff","#138a80","#8c8c8c","#ffb300"]},
      "legend": {"orient": "none", "legendX": 285, "legendY": 171.5, "title": null, "labelFontSize": 11.7, "labelColor": "#111", "labelLimit": 400, "symbolType": "M-1,0H3.67", "symbolSize": 144, "symbolStrokeWidth": 4, "labelOffset": 24, "rowPadding": 0, "padding": 5, "strokeColor": "#000"}}
   }},
  {"data": {"name": "b_wiv1"}, "mark": {"type": "line", "strokeWidth": 2.2, "clip": true, "opacity": 0.92}, "encoding": {"x": {"field": "x", "type": "quantitative"}, "y": {"field": "y", "type": "quantitative"}, "color": {"datum": "Bat SARSr-CoV WIV1(73.94%)", "type": "nominal"}}},
  {"data": {"name": "b_zxc21"}, "mark": {"type": "line", "strokeWidth": 2.2, "clip": true}, "encoding": {"x": {"field": "x", "type": "quantitative"}, "y": {"field": "y", "type": "quantitative"}, "color": {"datum": "Bat SARSr-CoV ZXC21(85,65%)", "type": "nominal"}}},
  {"data": {"name": "b_zc45"}, "mark": {"type": "line", "strokeWidth": 2.2, "clip": true}, "encoding": {"x": {"field": "x", "type": "quantitative"}, "y": {"field": "y", "type": "quantitative"}, "color": {"datum": "Bat SARSr-CoV ZC45 (85,01%)", "type": "nominal"}}},
  {"data": {"name": "b_wuhan"}, "mark": {"type": "line", "strokeWidth": 2.2, "clip": true}, "encoding": {"x": {"field": "x", "type": "quantitative"}, "y": {"field": "y", "type": "quantitative"}, "color": {"datum": "Beta-CoV/Wuhan-Hu-1 (91.02%)", "type": "nominal"}}},
  {"data": {"name": "b_ratg13"}, "mark": {"type": "line", "strokeWidth": 2.2, "clip": true}, "encoding": {"x": {"field": "x", "type": "quantitative"}, "y": {"field": "y", "type": "quantitative"}, "color": {"datum": "BatCoV RaTG13 (90.55%)", "type": "nominal"}}},
  {"data": {"name": "b_yticks"}, "mark": {"type": "tick", "orient": "horizontal", "size": 6, "thickness": 1, "color": "#000", "opacity": 1}, "encoding": {"x": {"datum": 0, "type": "quantitative"}, "y": {"field": "y", "type": "quantitative"}}},
  {"data": {"name": "b_xticks"}, "mark": {"type": "tick", "orient": "vertical", "size": 6, "thickness": 1, "color": "#000", "opacity": 1}, "encoding": {"x": {"field": "x", "type": "quantitative"}, "y": {"datum": 20, "type": "quantitative"}}},
  {"data": {"name": "b_text"}, "mark": {"type": "text", "fontSize": 17, "fontWeight": "bold", "color": "#111", "align": "center", "baseline": "middle"}, "encoding": {"x": {"field": "x", "type": "quantitative"}, "y": {"field": "y", "type": "quantitative"}, "text": {"field": "t"}}},
  {"data": {"name": "b_label"}, "mark": {"type": "text", "fontSize": 16, "fontWeight": "bold", "color": "#000", "align": "center", "baseline": "middle"}, "encoding": {"x": {"field": "x", "type": "quantitative"}, "y": {"field": "y", "type": "quantitative"}, "text": {"field": "t"}}},
  {"data": {"name": "b_arrow_red"}, "mark": {"type": "rule", "color": "#ff1a1a", "strokeWidth": 4}, "encoding": {"x": {"field": "x", "type": "quantitative"}, "x2": {"field": "x2"}, "y": {"field": "y", "type": "quantitative"}}},
  {"data": {"name": "b_arrow_red"}, "mark": {"type": "point", "shape": "M2,-1L0,0L2,1", "filled": false, "color": "#ff1a1a", "strokeWidth": 3.5, "size": 144, "opacity": 1}, "encoding": {"x": {"field": "x", "type": "quantitative"}, "y": {"field": "y", "type": "quantitative"}}},
  {"data": {"name": "b_arrow_blue"}, "mark": {"type": "rule", "color": "#1a2cff", "strokeWidth": 4}, "encoding": {"x": {"field": "x", "type": "quantitative"}, "x2": {"field": "x2"}, "y": {"field": "y", "type": "quantitative"}}},
  {"data": {"name": "b_arrow_blue"}, "mark": {"type": "point", "shape": "M2,-1L0,0L2,1", "filled": false, "color": "#1a2cff", "strokeWidth": 3.5, "size": 144, "opacity": 1}, "encoding": {"x": {"field": "x", "type": "quantitative"}, "y": {"field": "y", "type": "quantitative"}}}
 ]
},
{
 "width": 203, "height": 352,
 "layer": [
  {"data": {"name": "cap_bold"}, "mark": {"type": "text", "fontSize": 24, "fontWeight": "bold", "color": "#111", "align": "left", "baseline": "middle"},
   "encoding": {"x": {"datum": 0, "type": "quantitative", "scale": {"domain": [0, 1], "range": [0, 203]}, "axis": null}, "y": {"field": "line", "type": "quantitative", "scale": {"domain": [1, 8], "range": [105.5, 350.5]}, "axis": null}, "text": {"field": "t"}}},
  {"data": {"name": "cap_first"}, "mark": {"type": "text", "fontSize": 24, "color": "#111", "align": "left", "baseline": "middle", "dx": 148},
   "encoding": {"x": {"datum": 0, "type": "quantitative"}, "y": {"field": "line", "type": "quantitative"}, "text": {"field": "t"}}},
  {"data": {"name": "cap"}, "mark": {"type": "text", "fontSize": 24, "color": "#111", "align": "left", "baseline": "middle"},
   "encoding": {"x": {"datum": 0, "type": "quantitative"}, "y": {"field": "line", "type": "quantitative"}, "text": {"field": "t"}}}
 ]
}
]
}
